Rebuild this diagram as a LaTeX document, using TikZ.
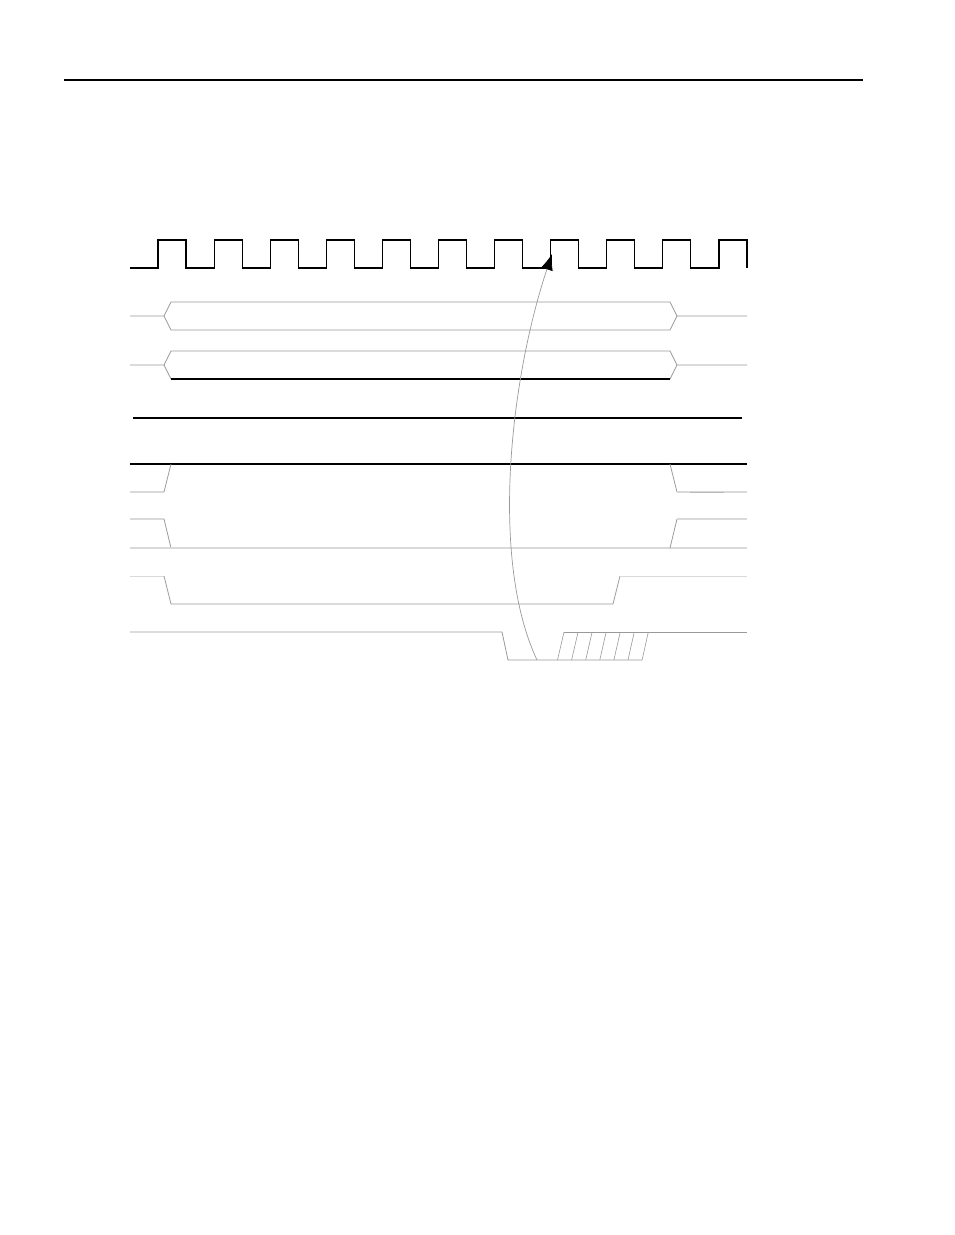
\documentclass[tikz,border=0pt]{standalone}
\usetikzlibrary{arrows.meta}
\definecolor{midgray}{HTML}{999999}
\definecolor{lightgray}{HTML}{D9D9D9}
\tikzset{
  blk/.style={black, line width=1.1pt},
  gry/.style={midgray, line width=0.8pt},
  lgry/.style={lightgray, line width=1.4pt},
}
\begin{document}
\begin{tikzpicture}[x=1pt,y=-1pt]
\useasboundingbox (0,0) rectangle (954,1235);
% header rule
\draw[blk] (64,80) -- (863,80);
% clock
\draw[blk] (130,268) \foreach \i in {0,...,10} { -- ({158+56.1*\i},268) -- ({158+56.1*\i},240) -- ({186+56.1*\i},240) -- ({186+56.1*\i},268) };
% bus row 2
\draw[gry] (130,316) -- (164,316) -- (171,302) -- (670,302) -- (677,316) -- (747,316);
\draw[gry] (164,316) -- (171,330) -- (670,330) -- (677,316);
% bus row 3
\draw[gry] (130,365) -- (164,365) -- (171,351) -- (670,351) -- (677,365) -- (747,365);
\draw[gry] (164,365) -- (171,379);
\draw[gry] (670,379) -- (677,365);
\draw[blk] (171,379) -- (670,379);
% row 4
\draw[blk] (133,418) -- (742,418);
% row 5
\draw[blk] (130,464) -- (747,464);
\draw[lgry] (130,492) -- (164,492);
\draw[gry] (164,492) -- (171,464);
\draw[gry] (670,464) -- (677,492);
\draw[lgry] (677,492) -- (747,492);
\draw[midgray!70, line width=0.9pt] (690,492) -- (724,492);
% row 6
\draw[lgry] (130,519) -- (164,519);
\draw[gry] (164,519) -- (171,548);
\draw[lgry] (130,548) -- (747,548);
\draw[gry] (670,548) -- (677,519);
\draw[lgry] (677,519) -- (747,519);
% row 7
\draw[lgry, line width=1pt] (130,576) -- (164,576);
\draw[gry] (164,576) -- (171,604) -- (613,604) -- (620,576);
\draw[lgry, line width=1pt] (620,576) -- (747,576);
% row 8
\draw[gry] (130,632) -- (502,632) -- (508,660) -- (642,660);
\draw[gry] (564,632) -- (747,632);
\foreach \i in {0,...,6}
  \draw[gry, line width=0.6pt] ({557.5+14.1*\i},660) -- ({564+14.05*\i},632);
% arrow
\coordinate (src) at (537,660);
\coordinate (dst) at (552,254);
\draw[gry, line width=0.7pt, -{Latex[length=16pt,width=12pt,color=black,fill=black]}] (src) .. controls (490,560) and (510,380) .. (dst);
\end{tikzpicture}
\end{document}
